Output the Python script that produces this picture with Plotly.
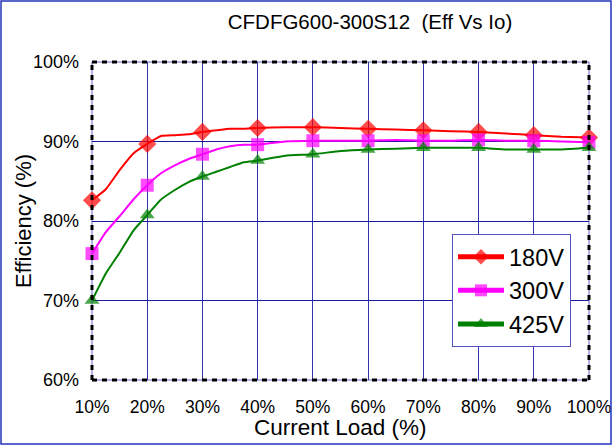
import plotly.graph_objects as go

load_pct = [10, 12.5, 15, 17.5, 20, 22.5, 25, 27.5, 30, 32.5, 35, 37.5, 40,
            45, 50, 55, 60, 65, 70, 75, 80, 85, 90, 95, 100]
eff_180 = [82.6, 84.0, 86.4, 88.5, 89.7, 90.7, 90.8, 90.9, 91.2, 91.4, 91.6, 91.6, 91.7,
           91.8, 91.8, 91.7, 91.6, 91.5, 91.4, 91.3, 91.2, 91.0, 90.8, 90.6, 90.5]
eff_300 = [75.9, 78.6, 80.6, 82.7, 84.5, 86.0, 87.0, 87.8, 88.4, 89.0, 89.4, 89.6, 89.6,
           90.0, 90.1, 90.1, 90.1, 90.2, 90.1, 90.1, 90.2, 90.1, 90.1, 90.0, 89.9]
eff_425 = [70.0, 73.4, 76.0, 78.8, 80.75, 82.7, 83.9, 84.9, 85.6, 86.2, 86.8, 87.4, 87.6,
           88.2, 88.4, 88.8, 89.0, 89.1, 89.2, 89.2, 89.2, 89.0, 89.0, 89.0, 89.2]
x_ticks = [10, 20, 30, 40, 50, 60, 70, 80, 90, 100]
x_tick_text = ["10%", "20%", "30%", "40%", "50%", "60%", "70%", "80%", "90%", "100%"]
y_ticks = [60, 70, 80, 90, 100]
y_tick_text = ["60%", "70%", "80%", "90%", "100%"]

series = [
    ("180V", eff_180, "#FF0000", "diamond", 14),
    ("300V", eff_300, "#FF00FF", "square", 13),
    ("425V", eff_425, "#008000", "triangle-up", 13),
]

fig = go.Figure()
for name, vals, col, sym, sz in series:
    sizes = [sz if x in x_ticks else 0 for x in load_pct]
    fig.add_trace(go.Scatter(
        x=load_pct, y=vals, name=name, mode="lines+markers", legendgroup=name,
        line=dict(color=col, width=2, shape="spline", smoothing=0.4),
        marker=dict(symbol=sym, size=sizes, color=col, line=dict(width=0)),
        cliponaxis=False,
    ))

L, R, T, B = 92, 23, 62, 65
W, H = 612, 445
pw, ph = W - L - R, H - T - B

fig.update_layout(
    width=W, height=H,
    margin=dict(l=L, r=R, t=T, b=B),
    paper_bgcolor="white", plot_bgcolor="white",
    font=dict(family="Liberation Sans, Arial, sans-serif", color="black"),
    title=dict(text="CFDFG600-300S12  (Eff Vs Io)", x=370 / W, xanchor="center",
               xref="container", y=1 - 22 / H, yanchor="middle", font=dict(size=20.5)),
    xaxis=dict(range=[10, 100], tickvals=x_ticks, ticktext=x_tick_text,
               showgrid=True, gridcolor="#3333B0", gridwidth=1, zeroline=False,
               tickfont=dict(size=17.5), ticks="", ticklabelstandoff=14,
               ticklabeloverflow="allow",
               showline=False, automargin=False),
    yaxis=dict(range=[60, 100], tickvals=y_ticks, ticktext=y_tick_text,
               showgrid=True, gridcolor="#1a1aA0", gridwidth=1, zeroline=False,
               tickfont=dict(size=18), ticks="", ticklabelstandoff=12,
               showline=False, automargin=False),
    legend=dict(x=(452 - L) / pw, y=1 - (234 - T) / ph, xanchor="left", yanchor="top",
                bgcolor="white", bordercolor="#5050C0", borderwidth=1,
                font=dict(size=23.5), itemsizing="constant", tracegroupgap=0,
                traceorder="grouped", itemwidth=46),
    showlegend=True,
    annotations=[
        dict(text="Current Load (%)", xref="paper", yref="paper",
             x=(340 - L) / pw, y=-(427 - T - ph) / ph, xanchor="center", yanchor="middle",
             showarrow=False, font=dict(size=22.5)),
        dict(text="Efficiency (%)", xref="paper", yref="paper", textangle=-90,
             x=-(L - 23) / pw, y=0.5, xanchor="center", yanchor="middle",
             showarrow=False, font=dict(size=22)),
    ],
)

# plot frame: thin blue + black dashes
fig.add_shape(type="rect", xref="paper", yref="paper", x0=0, y0=0, x1=1, y1=1,
              line=dict(color="#6666CC", width=1), layer="below")
for (x0, y0, x1, y1) in [(0, 0, 1, 0), (0, 1, 1, 1), (0, 0, 0, 1), (1, 0, 1, 1)]:
    fig.add_shape(type="line", xref="paper", yref="paper", x0=x0, y0=y0, x1=x1, y1=y1,
                  line=dict(color="black", width=3, dash="5px,5px"), layer="above")

# outer figure border
fig.add_shape(type="rect", xref="paper", yref="paper",
              x0=-(L - 1) / pw, x1=1 + (R - 1) / pw,
              y0=-(B - 1) / ph, y1=1 + (T - 1) / ph,
              line=dict(color="#2233BB", width=1.5))

fig.write_html("out.html", config={"displayModeBar": False},
               post_script="document.body.style.margin='0px';document.body.style.overflow='hidden';")
